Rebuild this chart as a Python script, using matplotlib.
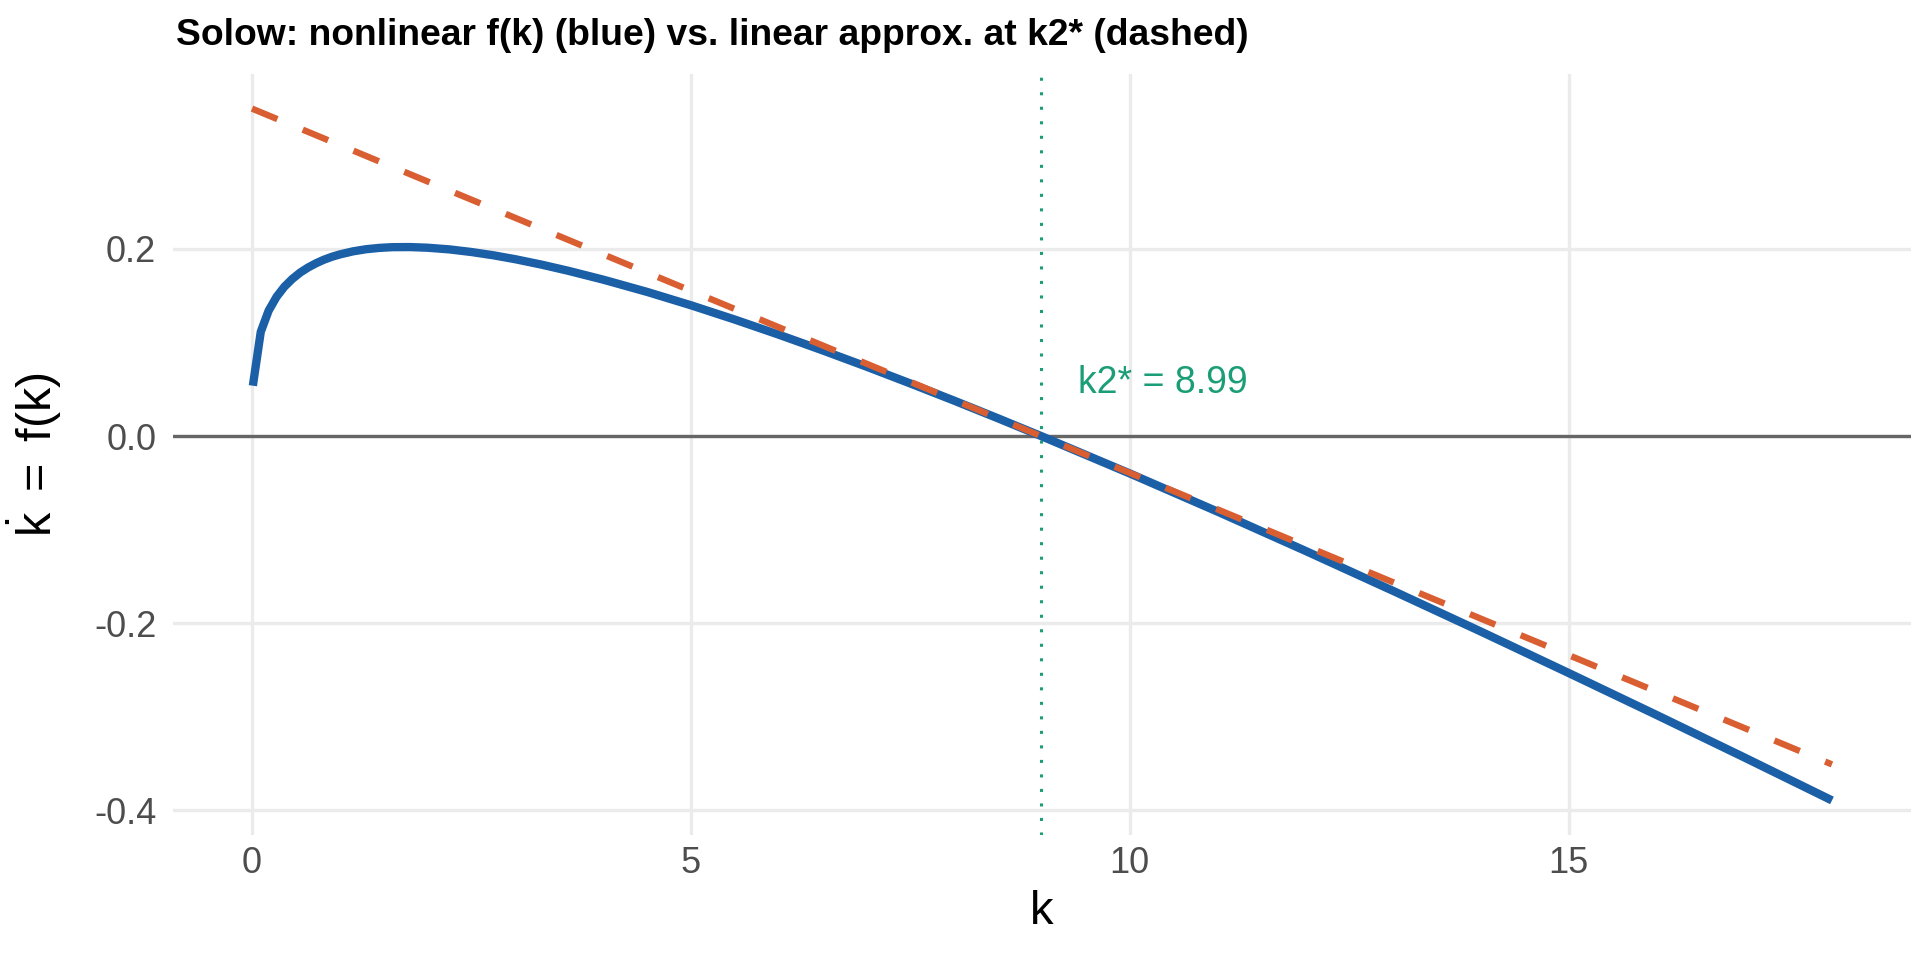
import numpy as np
import matplotlib
matplotlib.use("Agg")
import matplotlib.pyplot as plt

# Solow model: capital k and kdot = f(k)
k_vals = [0.01, 0.10, 0.19, 0.28, 0.37, 0.46, 0.55, 0.64, 0.73, 0.82, 0.91,
          1.00, 1.15, 1.30, 1.45, 1.60, 1.80, 2.00, 2.25, 2.50, 2.75, 3.00,
          3.30, 3.60, 4.00, 4.50, 5.00, 5.50, 6.00, 6.50, 7.00, 7.50, 8.00,
          8.50, 9.00, 10.0, 11.0, 12.0, 13.0, 14.0, 15.0, 16.0, 17.0, 18.0]
f_vals = [0.0538, 0.1114, 0.1341, 0.1488, 0.1597, 0.1680, 0.1748, 0.1802, 0.1847, 0.1885, 0.1916,
          0.1941, 0.1974, 0.1997, 0.2011, 0.2019, 0.2020, 0.2013, 0.1995, 0.1967, 0.1932, 0.1890,
          0.1832, 0.1767, 0.1672, 0.1541, 0.1398, 0.1245, 0.1084, 0.0916, 0.0742, 0.0562, 0.0378,
          0.0189, -0.0004, -0.0400, -0.0808, -0.1227, -0.1655, -0.2090, -0.2533, -0.2981,
          -0.3435, -0.3895]

# linear approximation around the steady state
lin_k = [0.0, 18.0]
lin_y = [0.350, -0.351]

k2_star = 8.99
x_ticks = [0, 5, 10, 15]
y_ticks = [-0.4, -0.2, 0.0, 0.2]

blue = "#1b5fa6"
orange = "#d95f32"
green = "#1b9e77"

plt.rcParams['font.family'] = ['Liberation Sans', 'DejaVu Sans']
plt.rcParams['axes.unicode_minus'] = False
plt.rcParams['mathtext.fontset'] = 'custom'
plt.rcParams['mathtext.rm'] = 'Liberation Sans'
plt.rcParams['mathtext.it'] = 'Liberation Sans:italic'

fig = plt.figure(figsize=(9.6, 4.8), dpi=200)
ax = fig.add_axes([0.0901, 0.1302, 0.9052, 0.7927])

# limits with ggplot-like 5% expansion
all_x = np.array(k_vals + lin_k)
all_y = np.array(f_vals + lin_y)
xr = all_x.max() - all_x.min()
yr = all_y.max() - all_y.min()
ax.set_xlim(all_x.min() - 0.05 * xr, all_x.max() + 0.05 * xr)
ax.set_ylim(all_y.min() - 0.05 * yr, all_y.max() + 0.05 * yr)

ax.axhline(0, color="#666666", lw=1.2, zorder=2)
ax.axvline(k2_star, color=green, lw=1.1, linestyle=(0, (1, 3.75)), zorder=2)
ax.plot(k_vals, f_vals, color=blue, lw=3.0, solid_capstyle='butt',
        solid_joinstyle='round', zorder=3)
ax.plot(lin_k, lin_y, color=orange, lw=2.3, linestyle=(0, (4.3, 4.3)), zorder=4)

ax.text(k2_star + 0.42, 0.046, "k2* = %.2f" % k2_star, color=green,
        fontsize=13.5, ha='left', va='baseline', zorder=5)

# theme_minimal look
for s in ax.spines.values():
    s.set_visible(False)
ax.set_xticks(x_ticks)
ax.set_yticks(y_ticks)
ax.set_yticklabels(["%.1f" % v for v in y_ticks])
ax.grid(True, color="#ebebeb", lw=1.2, zorder=0)
ax.set_axisbelow(True)
ax.tick_params(length=0, labelsize=13, labelcolor="#4d4d4d")
ax.tick_params(axis='x', pad=4)
ax.tick_params(axis='y', pad=6)

ax.set_xlabel("k", fontsize=17)
ax.xaxis.set_label_coords(0.5, -0.072)
ax.set_ylabel(r"$\dot{\mathrm{k}}\ =\ \mathrm{f(k)}$", fontsize=17.5)
ax.yaxis.set_label_coords(-0.0627, 0.5)

fig.text(0.0917, 0.953, "Solow: nonlinear f(k) (blue) vs. linear approx. at k2* (dashed)",
         fontsize=13.4, fontweight='bold', ha='left', va='baseline')

fig.savefig("out.png", dpi=200)
